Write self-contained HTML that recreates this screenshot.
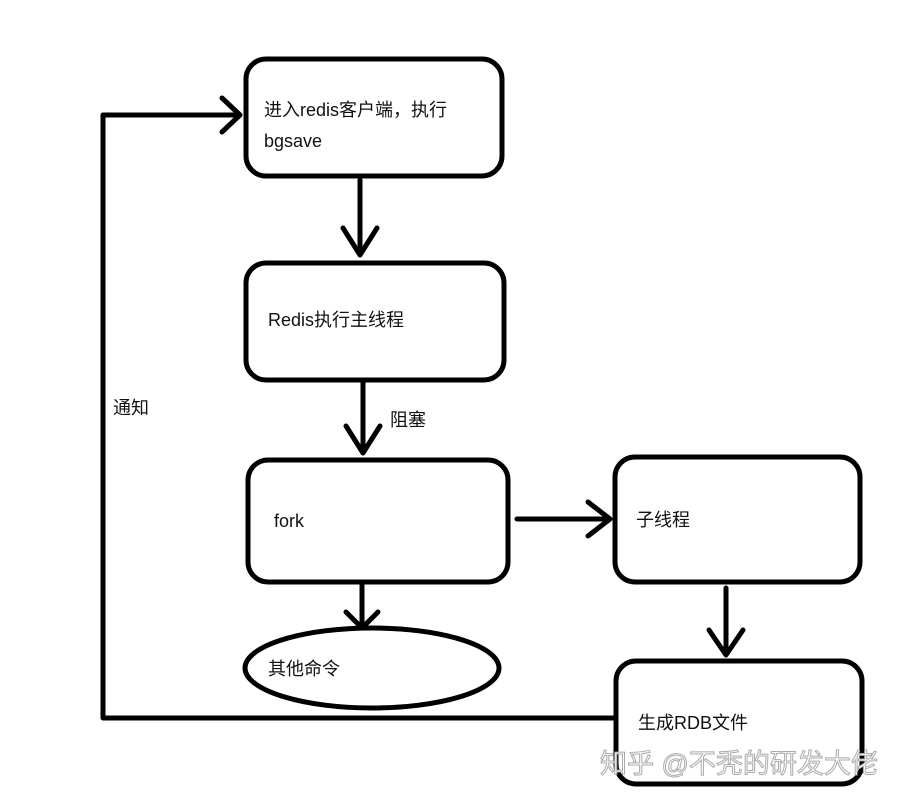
<!DOCTYPE html>
<html><head><meta charset="utf-8"><style>
body{margin:0;background:#fff;width:898px;height:801px;overflow:hidden}
text{font-family:"Liberation Sans","Noto Sans CJK SC",sans-serif;font-size:18px;fill:#111}
</style></head><body>
<svg width="898" height="801" viewBox="0 0 898 801">
<g fill="none" stroke="#000" stroke-width="5" stroke-linecap="round" stroke-linejoin="round">
<rect x="246" y="59" width="256" height="117" rx="20"/>
<rect x="246" y="263" width="258" height="117" rx="20"/>
<rect x="248" y="460" width="260" height="122" rx="20"/>
<rect x="615" y="457" width="245" height="125" rx="20"/>
<rect x="616" y="661" width="246" height="123" rx="20"/>
<ellipse cx="372" cy="668" rx="127" ry="40"/>
<path d="M360 180V255M343 228L360 255L377 228"/>
<path d="M363 382V453M346 426L363 453L380 426"/>
<path d="M362 585V628M346 612L362 628L378 612"/>
<path d="M517 519H610M588 502L610 519L588 536"/>
<path d="M726 588V655M709 630L726 655L743 630"/>
<path d="M614 718H103V115H240M222 98L240 115L222 132"/>
</g>
<text x="264" y="116">进入redis客户端，执行</text>
<text x="264" y="147">bgsave</text>
<text x="268" y="326">Redis执行主线程</text>
<text x="390" y="426">阻塞</text>
<text x="274" y="527">fork</text>
<text x="636" y="526">子线程</text>
<text x="268" y="675">其他命令</text>
<text x="113" y="414">通知</text>
<text x="638" y="729">生成RDB文件</text>
<text x="600" y="773" style="font-size:27px;fill:#fff;stroke:#aaa;stroke-width:1">知乎 @不秃的研发大佬</text>
</svg>
</body></html>
